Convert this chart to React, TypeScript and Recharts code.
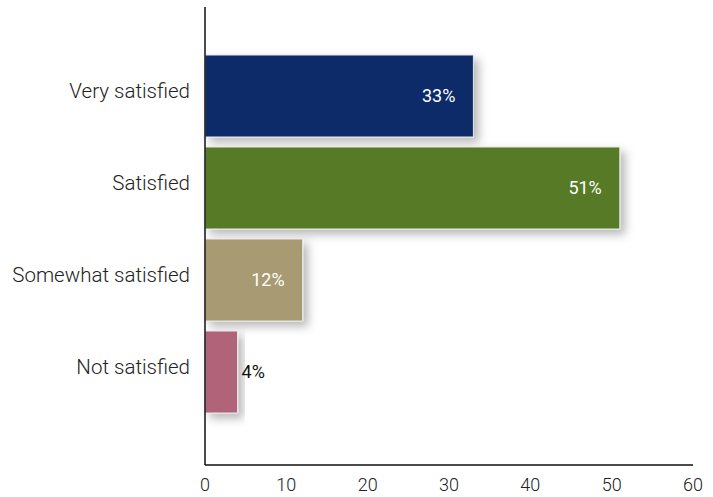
import { BarChart, Bar, XAxis, YAxis, Cell, LabelList } from "recharts";

const categories = ["Very satisfied", "Satisfied", "Somewhat satisfied", "Not satisfied"];
const shares = [33, 51, 12, 4];
const barColors = ["#0f2c69", "#577a27", "#a89b73", "#b06379"];
const xTicks = [0, 10, 20, 30, 40, 50, 60];

const data = categories.map((name, i) => ({ name, value: shares[i] }));

const font = "Roboto, 'Liberation Sans', sans-serif";

// white label inside the bar, dark label outside when the bar is too short
function ValueLabel(props: any) {
  const { x, y, width, height, value } = props;
  const inside = width > 60;
  return (
    <text
      x={inside ? x + width - 18 : x + width + 4}
      y={y + height / 2}
      dy={6}
      textAnchor={inside ? "end" : "start"}
      fill={inside ? "#ffffff" : "#111111"}
      fontSize={18}
      fontFamily={font}
    >
      {value}%
    </text>
  );
}

export default function App() {
  return (
    <div style={{ position: "absolute", left: 0, top: 0, background: "#fff" }}>
      <BarChart
        width={713}
        height={497}
        data={data}
        layout="vertical"
        margin={{ top: 7, right: 20, left: 0, bottom: 0 }}
      >
        <defs>
          <filter id="barShadow" x="-10%" y="-20%" width="130%" height="150%">
            <feDropShadow dx="5" dy="5" stdDeviation="5" floodColor="#000" floodOpacity="0.28" />
          </filter>
        </defs>
        <XAxis
          type="number"
          domain={[0, 60]}
          ticks={xTicks}
          tickLine={false}
          tickSize={0}
          tickMargin={13}
          height={32}
          axisLine={{ stroke: "#111", strokeWidth: 1.5 }}
          tick={{ fill: "#222", fontSize: 18, fontFamily: font, fontWeight: 300 }}
        />
        <YAxis
          type="category"
          dataKey="name"
          width={205}
          tickLine={false}
          tickSize={0}
          tickMargin={15}
          padding={{ top: 43, bottom: 47 }}
          axisLine={{ stroke: "#111", strokeWidth: 1.5 }}
          tick={{ fill: "#222", fontSize: 20.5, fontFamily: font, fontWeight: 300, dy: -5 }}
        />
        <Bar
          dataKey="value"
          barSize={82}
          stroke="#e6e6e6"
          strokeWidth={1}
          filter="url(#barShadow)"
          isAnimationActive={false}
        >
          {data.map((d, i) => (
            <Cell key={d.name} fill={barColors[i]} />
          ))}
          <LabelList dataKey="value" content={ValueLabel} />
        </Bar>
      </BarChart>
    </div>
  );
}
